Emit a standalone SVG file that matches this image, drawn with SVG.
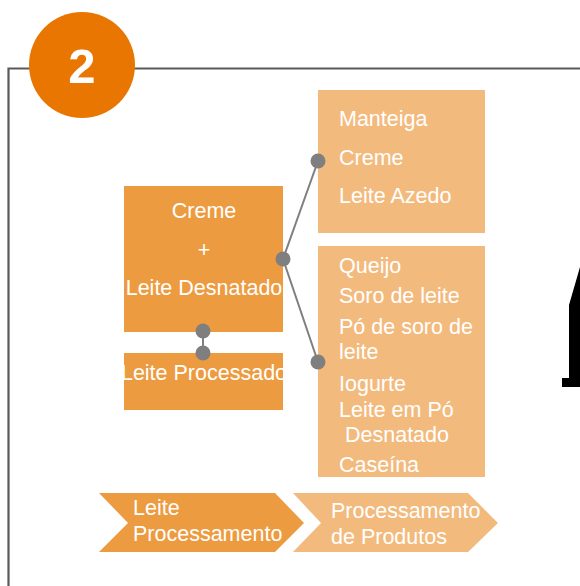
<svg xmlns="http://www.w3.org/2000/svg" width="580" height="586" viewBox="0 0 580 586">
<style>
text{font-family:"Liberation Sans",Arial,sans-serif;fill:#fff;font-size:21.5px}
.dark{fill:#ED9B40}
.light{fill:#F3BA7E}
.conn line{stroke:#7F7F7F;stroke-width:2}
.conn circle{fill:#7F7F7F}
</style>
<defs>
<clipPath id="clipLP"><rect x="124" y="353" width="159" height="57"/></clipPath>
</defs>
<rect width="580" height="586" fill="#fff"/>
<g id="frame"><path d="M8.5 586 V68.5 H580" fill="none" stroke="#5a5a5a" stroke-width="2.2"/></g>
<g id="badge">
<circle cx="82" cy="65" r="53" fill="#E97600"/>
<text x="82" y="83" text-anchor="middle" style="font-size:49px;font-weight:bold">2</text>
</g>
<g id="shape-fragment"><polygon points="580,267 569,305 569,378 562,378 562,387 580,387" fill="#000"/></g>
<g id="node-creme">
<rect class="dark" x="124" y="186" width="159" height="146"/>
<text x="204" y="218" text-anchor="middle">Creme</text>
<text x="204" y="257" text-anchor="middle">+</text>
<text x="204" y="295" text-anchor="middle">Leite Desnatado</text>
</g>
<g id="node-leite-processado">
<rect class="dark" x="124" y="353" width="159" height="57"/>
<text x="204" y="380" text-anchor="middle" clip-path="url(#clipLP)">Leite Processado</text>
</g>
<g id="node-top">
<rect class="light" x="318" y="90" width="167" height="143"/>
<text x="339" y="126">Manteiga</text>
<text x="339" y="165">Creme</text>
<text x="339" y="203">Leite Azedo</text>
</g>
<g id="node-bottom">
<rect class="light" x="318" y="246" width="167" height="231"/>
<text x="339" y="273">Queijo</text>
<text x="339" y="303">Soro de leite</text>
<text x="339" y="334">Pó de soro de</text>
<text x="339" y="359">leite</text>
<text x="339" y="391">Iogurte</text>
<text x="339" y="417">Leite em Pó</text>
<text x="345" y="442">Desnatado</text>
<text x="339" y="472">Caseína</text>
</g>
<g id="chevron-1">
<polygon class="dark" points="99,493 275,493 304,523 275,552 99,552 128,523"/>
<text x="133" y="515">Leite</text>
<text x="133" y="541">Processamento</text>
</g>
<g id="chevron-2">
<polygon class="light" points="293,493 468,493 498,523 468,552 293,552 321,523"/>
<text x="331" y="518">Processamento</text>
<text x="331" y="544">de Produtos</text>
</g>
<g id="connectors" class="conn">
<line x1="283" y1="259" x2="318" y2="161"/>
<line x1="283" y1="259" x2="318" y2="362"/>
<line x1="203" y1="331" x2="203" y2="353"/>
<circle cx="283" cy="259" r="7.5"/>
<circle cx="318" cy="161" r="7.5"/>
<circle cx="318" cy="362" r="7.5"/>
<circle cx="203" cy="331" r="7.5"/>
<circle cx="203" cy="353" r="7.5"/>
</g>
</svg>
